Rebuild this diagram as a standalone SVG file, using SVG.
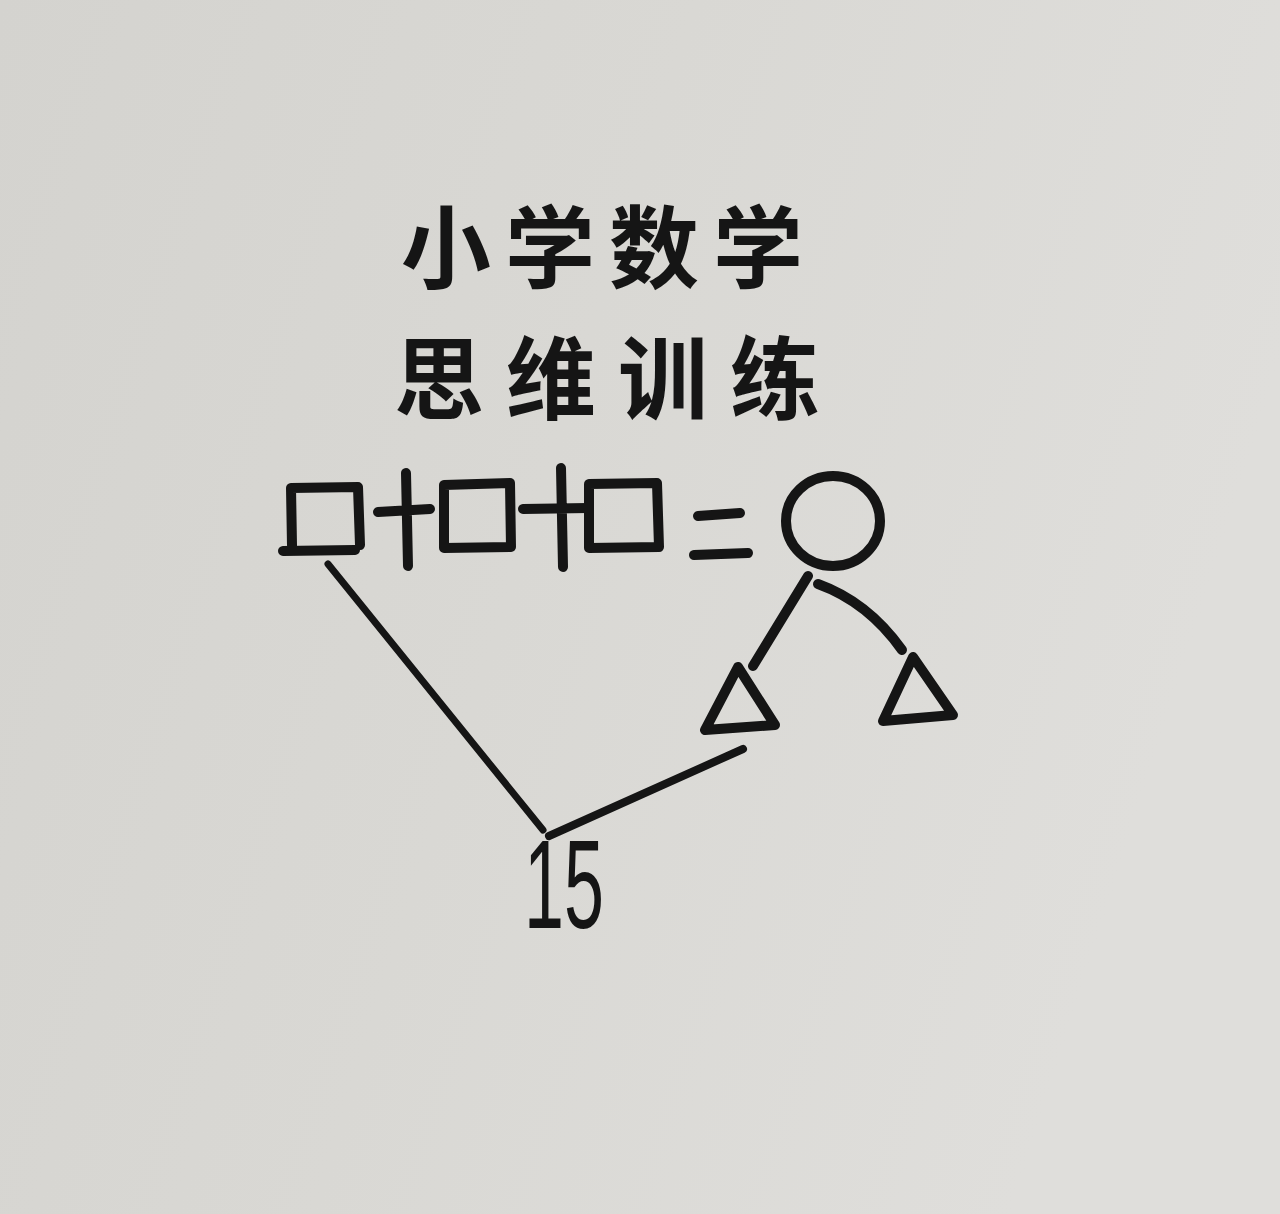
<svg xmlns="http://www.w3.org/2000/svg" width="1280" height="1214" viewBox="0 0 1280 1214">
  <defs>
    <linearGradient id="paper" x1="0" y1="0" x2="1" y2="0.3">
      <stop offset="0" stop-color="#d4d3cf"/>
      <stop offset="0.5" stop-color="#d9d8d4"/>
      <stop offset="1" stop-color="#dfdedb"/>
    </linearGradient>
    <style>
      .ink { fill: none; stroke: #151515; stroke-width: 10; stroke-linecap: round; stroke-linejoin: round; }
      .thin { stroke-width: 7; }
      .cjk { font-family: "Noto Sans CJK SC", "Noto Sans CJK JP", sans-serif; font-weight: 700; font-size: 90px; fill: #151515; }
      .num { font-family: "Liberation Sans", "DejaVu Sans", sans-serif; font-size: 126px; fill: #151515; }
    </style>
  </defs>
  <rect x="0" y="0" width="1280" height="1214" fill="url(#paper)"/>

  <g id="title">
    <text class="cjk" x="401" y="281" letter-spacing="14">小学数学</text>
    <text class="cjk" x="394" y="412" letter-spacing="22">思维训练</text>
  </g>

  <g id="box1"><path class="ink" d="M292 545 L291 488 L358 487 L360 545 M283 551 L355 550"/></g>
  <g id="plus1"><path class="ink" d="M378 512 L430 509 M406 473 L408 566"/></g>
  <g id="box2"><path class="ink" d="M444 485 L510 483 L511 547 L444 548 Z"/></g>
  <g id="plus2"><path class="ink" d="M523 509 L588 508 M561 468 L563 567"/></g>
  <g id="box3"><path class="ink" d="M589 484 L657 483 L659 547 L589 548 Z"/></g>
  <g id="equals"><path class="ink" d="M698 516 L740 513 M694 555 L748 553"/></g>
  <g id="circle"><ellipse class="ink" cx="833" cy="521" rx="47" ry="45"/></g>
  <g id="tri1"><path class="ink" d="M738 667 L705 730 L775 725 Z"/></g>
  <g id="tri2"><path class="ink" d="M913 657 L883 721 L953 715 Z"/></g>
  <g id="num15">
    <text class="num" x="524" y="928" textLength="80" lengthAdjust="spacingAndGlyphs">15</text>
  </g>

  <g id="connectors">
    <path class="ink thin" d="M328 564 L543 830"/>
    <path class="ink thin" d="M549 836 L743 749" style="stroke-width:8"/>
    <path class="ink" d="M808 576 L753 666"/>
    <path class="ink" d="M818 584 Q868 602 902 650"/>
  </g>
</svg>
